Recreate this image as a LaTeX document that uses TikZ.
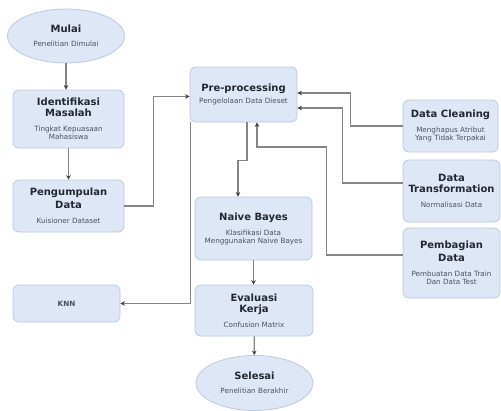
\documentclass[tikz,border=0pt]{standalone}
\usepackage{fontspec}
\setmainfont{DejaVu Sans}
\usetikzlibrary{shapes.geometric,arrows.meta}
\definecolor{boxfill}{HTML}{DDE7F6}
\definecolor{boxdraw}{HTML}{B9C9E2}
\definecolor{linecol}{HTML}{858585}
\definecolor{titlecol}{HTML}{222833}
\definecolor{subcol}{HTML}{4A5262}
\newcommand{\ttl}[1]{{\fontsize{10}{10}\selectfont\bfseries\color{titlecol}#1}}
\newcommand{\sbt}[1]{{\fontsize{7.2}{7}\selectfont\color{subcol}#1}}
\begin{document}
\begin{tikzpicture}[x=1pt,y=-1pt,
  stepbox/.style={draw=boxdraw,fill=boxfill,line width=0.8pt,rounded corners=6pt,align=center,inner sep=1pt,font=\fontsize{7.2}{8}\selectfont},
  endbox/.style={ellipse,draw=boxdraw,fill=boxfill,line width=0.8pt,align=center,inner sep=0pt,font=\fontsize{7.2}{8}\selectfont},
  arr/.style={draw=linecol,line width=1.2pt,-{Stealth[length=4.5pt,width=4.5pt,color=black!75]}}]
\useasboundingbox (0,0) rectangle (501,410);
\fill[white] (0,0) rectangle (501,410);
% nodes
\node[endbox,minimum width=117pt,minimum height=54pt] (mulai) at (66,36) {\ttl{Mulai}\\[6pt]\sbt{Penelitian Dimulai}};
\node[stepbox,minimum width=111pt,minimum height=58pt] (ident) at (68.5,119) {\ttl{Identifikasi}\\[3pt]\ttl{Masalah}\\[7pt]\sbt{Tingkat Kepuasaan}\\\sbt{Mahasiswa}};
\node[stepbox,minimum width=111pt,minimum height=52pt] (peng) at (68.5,206) {\ttl{Pengumpulan}\\[3pt]\ttl{Data}\\[7pt]\sbt{Kuisioner Dataset}};
\node[stepbox,minimum width=107pt,minimum height=37pt] (knn) at (66.5,303.5) {\sbt{\bfseries KNN}};
\node[stepbox,minimum width=107pt,minimum height=55pt] (pre) at (243.5,94.5) {\ttl{Pre-processing}\\[4pt]\sbt{Pengelolaan Data Dieset}};
\node[stepbox,minimum width=117pt,minimum height=63pt] (nb) at (253.5,228.5) {\ttl{Naive Bayes}\\[7pt]\sbt{Klasifikasi Data}\\\sbt{Menggunakan Naive Bayes}};
\node[stepbox,minimum width=118pt,minimum height=51pt] (eval) at (254,310.5) {\ttl{Evaluasi}\\[3pt]\ttl{Kerja}\\[7pt]\sbt{Confusion Matrix}};
\node[endbox,minimum width=117pt,minimum height=55pt] (selesai) at (254.5,383) {\ttl{Selesai}\\[6pt]\sbt{Penelitian Berakhir}};
\node[stepbox,minimum width=95pt,minimum height=52pt] (dc) at (450.5,126) {\ttl{Data Cleaning}\\[7pt]\sbt{Menghapus Atribut}\\\sbt{Yang Tidak Terpakai}};
\node[stepbox,minimum width=97pt,minimum height=62pt] (dt) at (451.5,191) {\ttl{Data}\\[3pt]\ttl{Transformation}\\[7pt]\sbt{Normalisasi Data}};
\node[stepbox,minimum width=97pt,minimum height=70pt] (pd) at (451.5,263) {\ttl{Pembagian}\\[3pt]\ttl{Data}\\[7pt]\sbt{Pembuatan Data Train}\\\sbt{Dan Data Test}};
% connectors
\draw[arr] (mulai.south) -- (mulai.south |- ident.north);
\draw[arr] (ident) -- (peng);
\draw[arr] (peng.east) -- ++(29,0) |- ([yshift=-2pt]pre.west);
\draw[arr] ([xshift=1pt]pre.south west) |- (knn.east);
\draw[arr] ([xshift=3.5pt]pre.south) -- ++(0,38) -| ([xshift=-15.5pt]nb.north);
\draw[arr] (nb.south) -- (nb.south |- eval.north);
\draw[arr] (eval) -- (selesai);
\draw[arr] (dc.west) -- ++(-52,0) |- ([yshift=1.5pt]pre.east);
\draw[arr] ([yshift=8pt]dt.west) -- ++(-60,0) |- ([yshift=-13.5pt]pre.east);
\draw[arr] ([yshift=8pt]pd.west) -- ++(-76,0) -- ++(0,-108) -| ([xshift=13.5pt]pre.south);
\end{tikzpicture}
\end{document}
